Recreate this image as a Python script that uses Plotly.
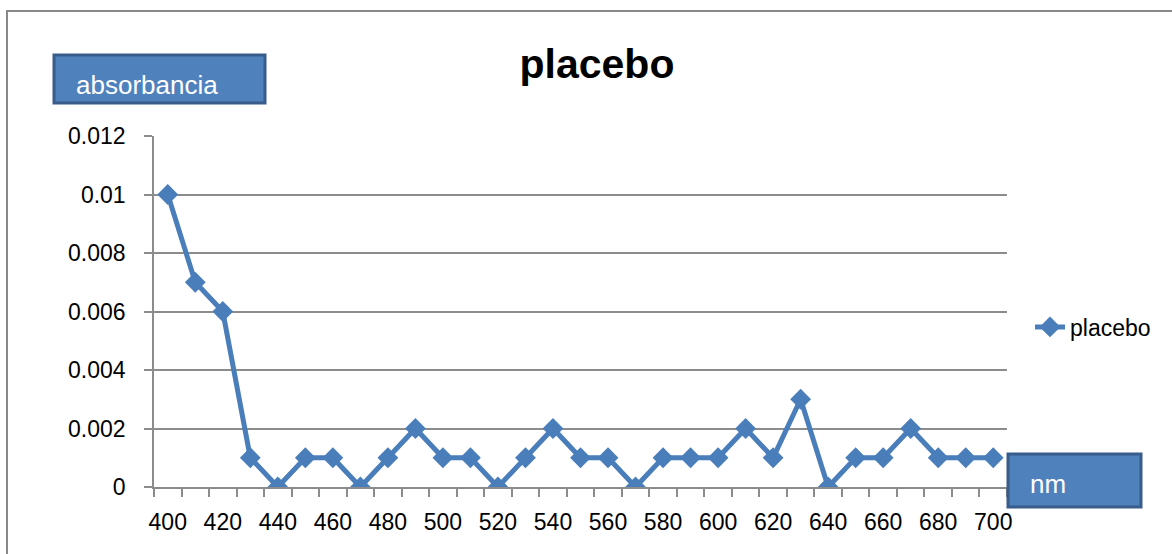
import plotly.graph_objects as go

# Data
wavelengths = list(range(400, 701, 10))
absorbance = [0.010, 0.007, 0.006, 0.001, 0.000, 0.001, 0.001, 0.000, 0.001, 0.002,
              0.001, 0.001, 0.000, 0.001, 0.002, 0.001, 0.001, 0.000, 0.001, 0.001,
              0.001, 0.002, 0.001, 0.003, 0.000, 0.001, 0.001, 0.002, 0.001, 0.001,
              0.001]
x_tick_vals = list(range(400, 701, 20))
y_tick_vals = [0, 0.002, 0.004, 0.006, 0.008, 0.010, 0.012]
y_tick_text = ["0", "0.002", "0.004", "0.006", "0.008", "0.01", "0.012"]

W, H = 1172, 554
L, R, T, B = 154, 165, 136, 67
PW, PH = W - L - R, H - T - B

def px(x):
    return (x - L) / PW

def py(y):
    return (H - B - y) / PH

FONT = "Liberation Sans, Arial, sans-serif"
BLUE = "#4A7EBB"
GRID = "#8C8C8C"

fig = go.Figure()
fig.add_trace(go.Scatter(
    x=wavelengths, y=absorbance, mode="lines+markers", name="placebo",
    line=dict(color=BLUE, width=5),
    marker=dict(symbol="diamond", size=16, color=BLUE),
))

fig.update_layout(
    width=W, height=H,
    margin=dict(l=L, r=R, t=T, b=B),
    paper_bgcolor="white", plot_bgcolor="white",
    font=dict(family=FONT, size=23, color="black"),
    title=dict(text="<b>placebo</b>", x=px(597), xref="paper", xanchor="center",
               y=1 - 64 / H, yanchor="middle", font=dict(size=41, family=FONT)),
    showlegend=True,
    legend=dict(x=px(1030), y=py(327), xanchor="left", yanchor="middle",
                font=dict(size=23), bgcolor="rgba(0,0,0,0)", itemwidth=30),
    xaxis=dict(range=[395, 705], tickmode="array", tickvals=x_tick_vals,
               ticks="", showgrid=False, zeroline=False,
               showline=True, linecolor=GRID, linewidth=1.5,
               tickfont=dict(size=23), ticklabelstandoff=14,
               minor=dict(ticks="outside", ticklen=8, tickcolor=GRID, tickwidth=1.5,
                          tick0=395, dtick=10, showgrid=False)),
    yaxis=dict(range=[0, 0.012], tickmode="array", tickvals=y_tick_vals,
               ticktext=y_tick_text, ticks="outside", ticklen=8, tickcolor=GRID,
               tickwidth=1.5, showgrid=True, gridcolor=GRID, gridwidth=1.5,
               zeroline=False, showline=True, linecolor=GRID, linewidth=1.5,
               ticklabelstandoff=14, tickfont=dict(size=23)),
)

# outer chart border
fig.add_shape(type="rect", xref="paper", yref="paper",
              x0=px(7), x1=px(1180), y0=py(565), y1=py(11),
              line=dict(color="#888888", width=2), fillcolor="rgba(0,0,0,0)", layer="below")

# text boxes
fig.add_shape(type="rect", xref="paper", yref="paper",
              x0=px(54), x1=px(265), y0=py(103), y1=py(55),
              line=dict(color="#385D8A", width=3), fillcolor="#4F81BD", layer="above")
fig.add_annotation(xref="paper", yref="paper", x=px(74), y=py(85), xanchor="left",
                   yanchor="middle", text="absorbancia", showarrow=False,
                   font=dict(size=26, color="white", family=FONT))
fig.add_shape(type="rect", xref="paper", yref="paper",
              x0=px(1008), x1=px(1141), y0=py(507), y1=py(454),
              line=dict(color="#385D8A", width=3), fillcolor="#4F81BD", layer="above")
fig.add_annotation(xref="paper", yref="paper", x=px(1028), y=py(484), xanchor="left",
                   yanchor="middle", text="nm", showarrow=False,
                   font=dict(size=26, color="white", family=FONT))

fig.write_html("out.html", config={"displayModeBar": False},
               post_script="document.body.style.margin='0px';document.body.style.overflow='hidden';")
